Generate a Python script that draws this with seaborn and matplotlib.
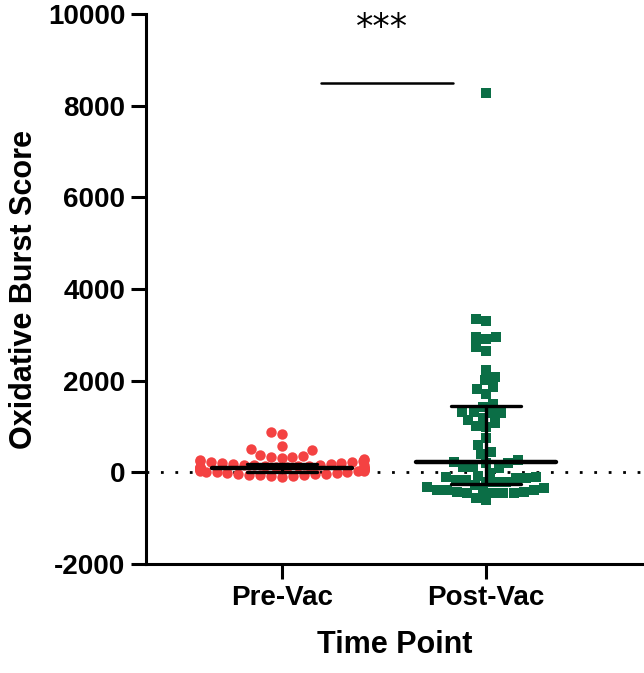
import numpy as np
import pandas as pd
import matplotlib
matplotlib.use("Agg")
import matplotlib.pyplot as plt
import seaborn as sns

# Values
groups = ["Pre-Vac", "Post-Vac"]
pre_vac = [880, 845, 565, 505, 490, 385, 360, 345, 330, 315, 300, 275, 262, 248,
           240, 228, 215, 205, 198, 186, 178, 170, 163, 158, 150, 146, 138, 130,
           122, 118, 112, 106, 100, 96, 90, 84, 78, 70, 62, 55, 48, 40, 32, 22,
           14, 6, 0, -8, -18, -26, -35, -42, -50, -58, -66, -75, -84, -92, 125, 72]
post_vac = [8270, 3350, 3300, 2950, 2910, 2950, 2730, 2650, 2230, 2080, 2010, 1860,
            1810, 1700, 1500, 1290, 1290, 1310, 1420, 1310, 1140, 1070, 1180, 980,
            1010, 740, 590, 440, 390, 200, 200, 220, 260, 110, 110, -70, -20, -210,
            90, -110, -130, -110, -280, -170, -170, -210, -390, -410, -430, -390,
            -570, -460, -460, -460, -350, -610, -460, -310, -130, -430, -210, -390]
medians = [105, 222]
q1 = [10, -244]
q3 = [192, 1457]
colors = ["#F44242", "#0B6E46"]
markers = ["o", "s"]

df = pd.DataFrame({
    "Time Point": ["Pre-Vac"] * len(pre_vac) + ["Post-Vac"] * len(post_vac),
    "Score": pre_vac + post_vac,
})

sns.set_style("white")
plt.rcParams["font.family"] = ["Liberation Sans", "DejaVu Sans"]
plt.rcParams["axes.unicode_minus"] = False
for k in ("text.color", "axes.labelcolor", "xtick.color", "ytick.color"):
    plt.rcParams[k] = "black"

fig = plt.figure(figsize=(6.44, 6.73), dpi=100)
ax = fig.add_axes([0.2267, 0.162, 0.7733, 0.817])

for g, c, m in zip(groups, colors, markers):
    sub = df[df["Time Point"] == g]
    sns.swarmplot(data=sub, x="Time Point", y="Score", order=groups, color=c,
                  marker=m, size=7.5 if m == "o" else 7.0, linewidth=0,
                  ax=ax, warn_thresh=1)

# zero reference line
ax.axhline(0, color="black", lw=2, ls=(0, (1, 4.2)), zorder=1)

# median and interquartile range
for i in range(len(groups)):
    ax.plot([i - 0.345, i + 0.345], [medians[i], medians[i]], color="black", lw=3.2, zorder=5)
    ax.plot([i, i], [q1[i], q3[i]], color="black", lw=2.4, zorder=5)
    for q in (q1[i], q3[i]):
        ax.plot([i - 0.172, i + 0.172], [q, q], color="black", lw=2.4, zorder=5)

# significance bar
ax.plot([0.19, 0.84], [8500, 8500], color="black", lw=1.8)
ax.text(0.49, 9700, "***", ha="center", va="center", fontsize=25,
        family="DejaVu Sans")

ax.set_xlim(-0.667, 1.775)
ax.set_ylim(-2000, 10000)
ax.set_yticks([-2000, 0, 2000, 4000, 6000, 8000, 10000])
ax.set_xlabel("Time Point", fontsize=22, fontweight="bold", labelpad=14)
ax.set_ylabel("Oxidative Burst Score", fontsize=22, fontweight="bold", labelpad=6)
for lab in ax.get_xticklabels() + ax.get_yticklabels():
    lab.set_fontweight("bold")
ax.tick_params(axis="both", labelsize=20, length=11, width=2.2, color="black",
               direction="out", left=True, bottom=True, pad=4)
sns.despine(ax=ax)
for s in ("left", "bottom"):
    ax.spines[s].set_linewidth(2.2)
    ax.spines[s].set_color("black")

fig.savefig("out.png", dpi=100)
plt.close(fig)
